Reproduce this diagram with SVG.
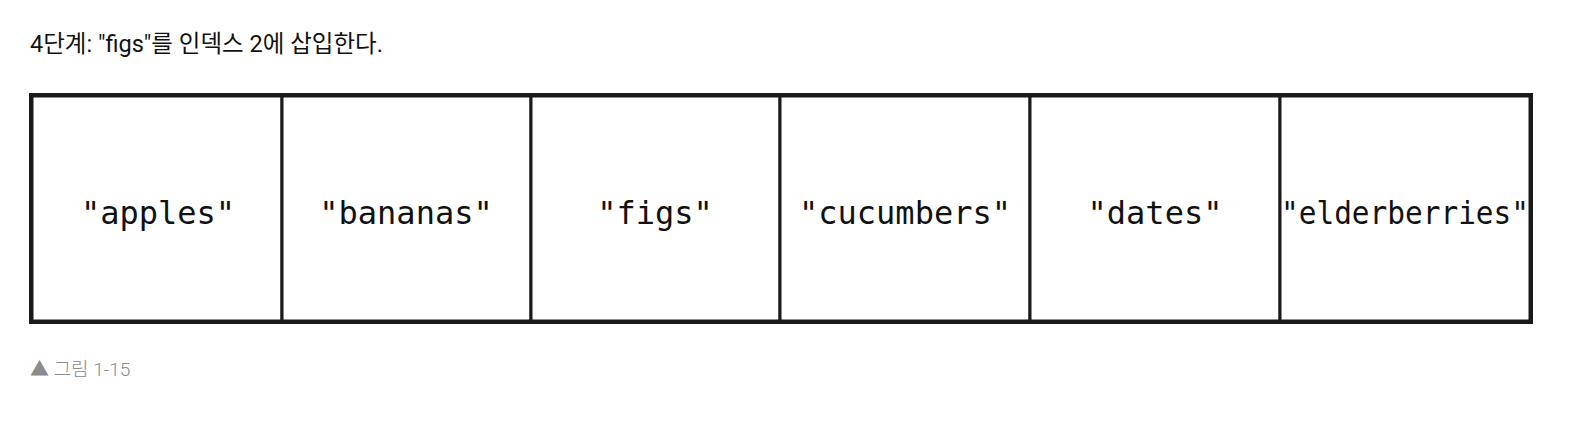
<svg xmlns="http://www.w3.org/2000/svg" width="1580" height="428" viewBox="0 0 1580 428">
<style>
.cell{fill:#fff;stroke:#1a1a1a;stroke-width:3}
.outer{fill:none;stroke:#1a1a1a;stroke-width:4}
.lbl{font-family:"DejaVu Sans Mono","Liberation Mono",monospace;font-size:32px;fill:#111;text-anchor:middle}
.title{font-family:Roboto,"Noto Sans CJK KR",sans-serif;font-size:23.5px;fill:#111}
.cap{font-family:Roboto,"Noto Sans CJK KR",sans-serif;font-size:19px;font-weight:300;fill:#8a8a8a}
</style>
<rect width="1580" height="428" fill="#fff"/>
<text class="title" x="30" y="52">4단계: "figs"를 인덱스 2에 삽입한다.</text>
<g id="cell0"><rect class="cell" x="32" y="96" width="250" height="225"/><text class="lbl" x="158" y="224">"apples"</text></g>
<g id="cell1"><rect class="cell" x="282" y="96" width="249" height="225"/><text class="lbl" x="406" y="224">"bananas"</text></g>
<g id="cell2"><rect class="cell" x="531" y="96" width="249" height="225"/><text class="lbl" x="655" y="224">"figs"</text></g>
<g id="cell3"><rect class="cell" x="780" y="96" width="250" height="225"/><text class="lbl" x="905" y="224">"cucumbers"</text></g>
<g id="cell4"><rect class="cell" x="1030" y="96" width="250" height="225"/><text class="lbl" x="1155" y="224">"dates"</text></g>
<g id="cell5"><rect class="cell" x="1280" y="96" width="250" height="225"/><text class="lbl" x="1405" y="224" textLength="248" lengthAdjust="spacingAndGlyphs">"elderberries"</text></g>
<g id="connectors"><rect class="outer" x="31" y="95" width="1500" height="227"/></g>
<text class="cap" x="30" y="376">▲ 그림 1-15</text>
</svg>
